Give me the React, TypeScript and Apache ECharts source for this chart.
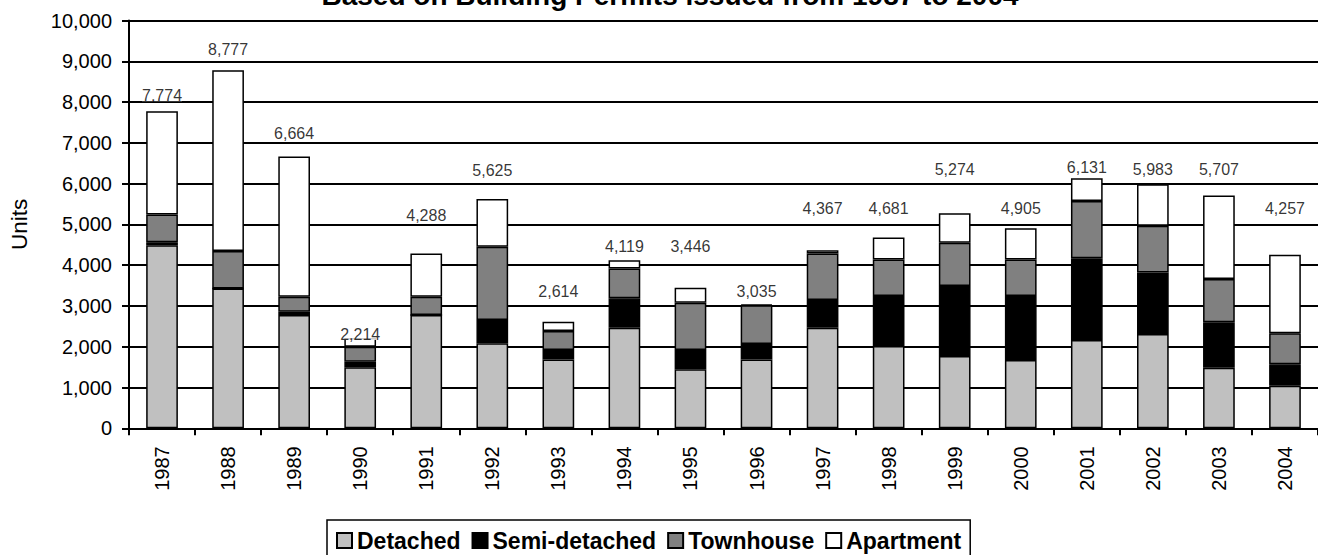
import React, { useEffect, useRef } from "react";
import * as echarts from "echarts";

const years = ["1987", "1988", "1989", "1990", "1991", "1992", "1993", "1994", "1995", "1996", "1997", "1998", "1999", "2000", "2001", "2002", "2003", "2004"];
const detached = [4490, 3430, 2777, 1495, 2780, 2083, 1690, 2466, 1446, 1690, 2466, 2017, 1772, 1674, 2164, 2311, 1485, 1044];
const semiDetached = [75, 0, 80, 137, 0, 571, 229, 720, 473, 376, 679, 1226, 1716, 1569, 2003, 1512, 1113, 525];
const townhouse = [680, 920, 368, 368, 446, 1797, 466, 735, 1159, 949, 1144, 899, 1061, 899, 1404, 1143, 1061, 759];
const apartment = [2529, 4427, 3439, 214, 1062, 1174, 229, 198, 368, 20, 78, 539, 725, 763, 560, 1017, 2048, 1929];
// level (in units) at which each total label sits in the original chart
const totalLabelLevel = [8170, 9290, 7230, 2310, 5210, 6330, 3365, 4470, 4470, 3365, 5390, 5390, 6350, 5390, 6390, 6350, 6350, 5390];
const seriesNames = ["Detached", "Semi-detached", "Townhouse", "Apartment"];
const titleText = "Based on Building Permits issued from 1987 to 2004";

const FONT = "Liberation Sans, Arial, sans-serif";

export default function App() {
  const ref = useRef<HTMLDivElement>(null);
  useEffect(() => {
    document.body.style.margin = "0";
    const chart = echarts.init(ref.current as HTMLDivElement, null, { renderer: "svg" });
    const totals = years.map((_, i) => detached[i] + semiDetached[i] + townhouse[i] + apartment[i]);
    const fills = ["#C0C0C0", "#000000", "#808080", "#FFFFFF"];
    const values = [detached, semiDetached, townhouse, apartment];
    const bars = seriesNames.map((name, k) => ({
      name,
      type: "bar",
      stack: "total",
      barWidth: "48%",
      data: values[k],
      itemStyle: { color: fills[k], borderColor: "#000", borderWidth: 1.5 },
      emphasis: { disabled: true },
    }));
    chart.setOption({
      animation: false,
      textStyle: { fontFamily: FONT, color: "#000" },
      grid: { left: 127, right: 0, top: 20.5, bottom: 126.7, containLabel: false },
      graphic: [
        {
          type: "text",
          x: 670,
          y: 9,
          style: { text: titleText, font: "bold 28px " + FONT, fill: "#000", align: "center", verticalAlign: "bottom" },
        },
      ],
      legend: {
        data: seriesNames,
        left: 327,
        top: 520,
        orient: "horizontal",
        icon: "rect",
        itemWidth: 15,
        itemHeight: 15,
        itemGap: 11,
        borderColor: "#000",
        borderWidth: 1.5,
        padding: [9, 9, 8, 9],
        textStyle: { fontFamily: FONT, fontWeight: "bold", fontSize: 23, color: "#000" },
      },
      xAxis: {
        type: "category",
        data: years,
        axisLine: { show: true, lineStyle: { color: "#000", width: 2 } },
        axisTick: { show: true, alignWithLabel: false, interval: 0, length: 7, lineStyle: { color: "#000", width: 2 } },
        axisLabel: { rotate: 90, interval: 0, fontSize: 20, margin: 18, color: "#000", fontFamily: FONT },
      },
      yAxis: {
        type: "value",
        min: 0,
        max: 10000,
        interval: 1000,
        name: "Units",
        nameLocation: "middle",
        nameGap: 98,
        nameRotate: 90,
        nameTextStyle: { fontSize: 22.5, color: "#000", fontFamily: FONT },
        axisLine: { show: true, lineStyle: { color: "#000", width: 2 } },
        axisTick: { show: true, length: 7, lineStyle: { color: "#000", width: 2 } },
        splitLine: { show: true, lineStyle: { color: "#000", width: 2 } },
        axisLabel: {
          fontSize: 20,
          margin: 17,
          color: "#000",
          fontFamily: FONT,
          formatter: (v: number) => v.toLocaleString("en-US"),
        },
      },
      series: [
        ...bars,
        {
          name: "totals",
          type: "scatter",
          z: 5,
          symbolSize: 1,
          itemStyle: { color: "rgba(0,0,0,0)" },
          data: years.map((_, i) => [i, totalLabelLevel[i]]),
          label: {
            show: true,
            position: "inside",
            fontSize: 16,
            lineHeight: 12,
            color: "#000",
            fontFamily: FONT,
            backgroundColor: "#fff",
            padding: 0,
            formatter: (p: any) => totals[p.dataIndex].toLocaleString("en-US"),
          },
          emphasis: { disabled: true },
        },
      ],
    });
    return () => chart.dispose();
  }, []);
  return <div ref={ref} style={{ width: 1318, height: 555 }} />;
}
